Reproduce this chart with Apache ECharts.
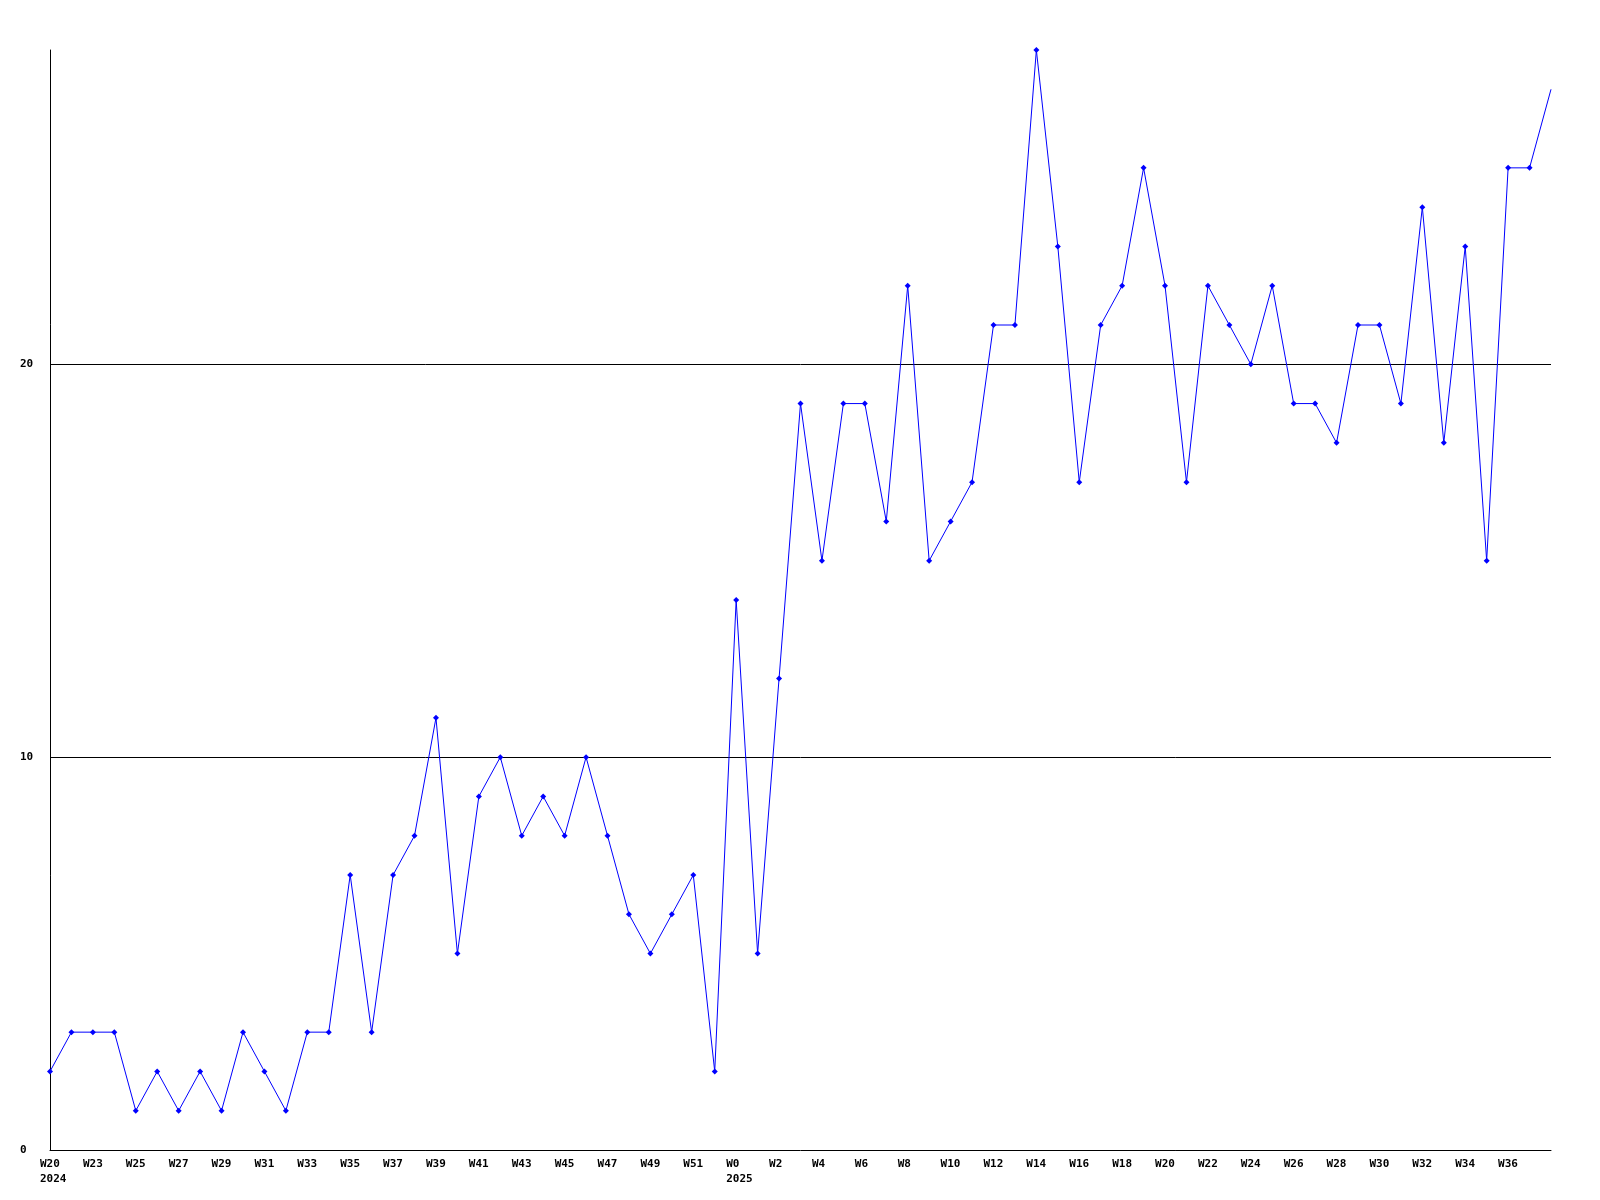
<!DOCTYPE html>
<html>
<head>
<meta charset="utf-8">
<style>html,body{margin:0;padding:0;background:#fff;}#chart{width:1600px;height:1200px;}</style>
<script src="https://cdn.jsdelivr.net/npm/echarts@6/dist/echarts.min.js"></script>
</head>
<body>
<div id="chart"></div>
<script>
const weeks = [
  'W20','W22','W23','W24','W25','W26','W27','W28','W29','W30','W31','W32','W33','W34','W35','W36',
  'W37','W38','W39','W40','W41','W42','W43','W44','W45','W46','W47','W48','W49','W50','W51','W52',
  'W0','W1','W2','W3','W4','W5','W6','W7','W8','W9','W10','W11','W12','W13','W14','W15','W16','W17',
  'W18','W19','W20','W21','W22','W23','W24','W25','W26','W27','W28','W29','W30','W31','W32','W33',
  'W34','W35','W36','W37','W38'
];
const years = { 0: '2024', 32: '2025' };
const counts = [
  2,3,3,3,1,2,1,2,1,3,
  2,1,3,3,7,3,7,8,11,5,
  9,10,8,9,8,10,8,6,5,6,
  7,2,14,5,12,19,15,19,19,16,
  22,15,16,17,21,21,28,23,17,21,
  22,25,22,17,22,21,20,22,19,19,
  18,21,21,19,24,18,23,15,25,25,
  27
];
const yTicks = [0, 10, 20];

const font = { fontFamily: 'DejaVu Sans Mono', fontWeight: 'bold', fontSize: 11, color: '#000' };
const chart = echarts.init(document.getElementById('chart'), null, { renderer: 'canvas' });
chart.setOption({
  animation: false,
  backgroundColor: '#fff',
  grid: { left: 50, right: 49, top: 50, bottom: 50, containLabel: false },
  xAxis: {
    type: 'category',
    data: weeks,
    boundaryGap: false,
    axisLine: { lineStyle: { color: '#000', width: 1 } },
    axisTick: { show: false },
    splitLine: { show: false },
    axisLabel: Object.assign({}, font, {
      interval: (i) => i % 2 === 0 && i < weeks.length - 1,
      align: 'left',
      verticalAlign: 'top',
      padding: [0, 0, 0, -10],
      margin: 7,
      lineHeight: 15,
      formatter: (v, i) => years[i] ? v + '\n' + years[i] : v
    })
  },
  yAxis: {
    type: 'value',
    min: 0,
    max: 28,
    interval: 10,
    axisLine: { show: true, lineStyle: { color: '#000', width: 1 } },
    axisTick: { show: false },
    splitLine: { show: true, showMinLine: false, showMaxLine: false, lineStyle: { color: '#000', width: 1 } },
    axisLabel: Object.assign({}, font, {
      align: 'left',
      margin: 30,
      showMaxLabel: false,
      formatter: (v) => yTicks.includes(v) ? String(v) : ''
    })
  },
  series: [{
    type: 'line',
    data: counts.map((v, i) => i === counts.length - 1 ? { value: v, symbol: 'none' } : v),
    symbol: 'diamond',
    symbolSize: 6,
    showAllSymbol: true,
    clip: false,
    lineStyle: { color: '#0000ff', width: 1 },
    itemStyle: { color: '#0000ff' }
  }]
});
</script>
</body>
</html>
